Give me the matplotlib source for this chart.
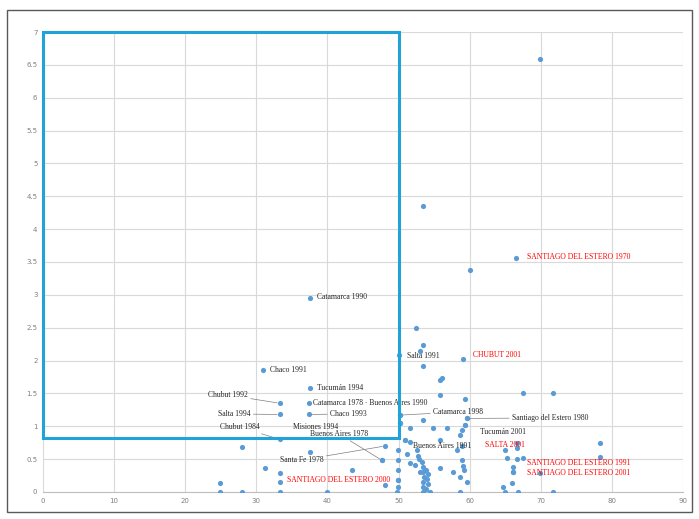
import matplotlib
matplotlib.use("Agg")
import matplotlib.pyplot as plt
from matplotlib.patches import Rectangle

# ---------------- data ----------------
# unlabeled points
pts_x = [69.9, 53.4, 60.0, 52.5, 53.4, 53.0, 53.4, 56.1, 55.8, 55.8, 59.3, 67.5, 71.7,
         50.9, 49.9, 49.9, 49.9, 49.9, 49.9, 51.6, 52.6, 53.3, 53.4, 53.4, 53.6, 53.4, 53.4,
         53.0, 51.6, 52.3, 55.8, 57.7, 58.6, 59.6, 58.9, 58.6, 59.3, 59.6, 58.2, 58.9, 55.8,
         53.4, 54.8, 56.8, 51.6, 50.2, 50.2, 49.8, 53.4, 54.4, 58.6,
         28.0, 31.2, 33.3, 33.3, 24.9, 24.9, 28.0, 33.3, 37.5, 39.9, 43.5, 47.7, 48.1,
         65.0, 66.7, 66.7, 65.3, 66.1, 67.5, 66.1, 66.0, 64.7, 65.0, 66.8, 71.7, 69.9,
         78.3, 78.3,
         53.8, 54.0, 53.9, 52.8, 52.9, 54.2, 54.1, 59.0, 59.2, 51.2]
pts_y = [6.59, 4.35, 3.38, 2.50, 2.24, 2.15, 1.92, 1.74, 1.70, 1.47, 1.41, 1.50, 1.50,
         0.79, 0.64, 0.48, 0.33, 0.18, 0.08, 0.76, 0.64, 0.45, 0.38, 0.30, 0.23, 0.15, 0.08,
         0.30, 0.44, 0.41, 0.36, 0.30, 0.23, 0.15, 0.94, 0.86, 1.02, 1.12, 0.64, 0.48, 0.79,
         1.09, 0.97, 0.98, 0.98, 1.05, 1.17, 0.00, 0.00, 0.00, 0.00,
         0.68, 0.36, 0.29, 0.15, 0.14, 0.00, 0.00, 0.00, 0.61, 0.00, 0.33, 0.48, 0.11,
         0.64, 0.67, 0.74, 0.52, 0.38, 0.52, 0.30, 0.14, 0.08, 0.00, 0.00, 0.00, 0.29,
         0.74, 0.53,
         0.34, 0.20, 0.05, 0.55, 0.50, 0.27, 0.12, 0.40, 0.33, 0.58]

# labeled points
lab_text = ["Catamarca 1990", "Chaco 1991", "Tucumán 1994", "Chubut 1992", "Salta 1994",
            "Chubut 1984", "Catamarca 1978 · Buenos Aires 1990", "Chaco 1993",
            "Misiones 1994", "Buenos Aires 1978", "Santa Fe 1978", "SANTIAGO DEL ESTERO 2000",
            "Salta 1991", "CHUBUT 2001", "SANTIAGO DEL ESTERO 1970", "Catamarca 1998",
            "Santiago del Estero 1980", "Tucumán 2001", "Buenos Aires 1991", "SALTA 2001",
            "SANTIAGO DEL ESTERO 1991", "SANTIAGO DEL ESTERO 2001"]
lab_x = [37.5, 30.9, 37.5, 33.3, 33.3, 33.3, 37.4, 37.4, 50.2, 47.7, 48.1, 49.9,
         50.1, 59.1, 66.5, 50.2, 59.6, 59.3, 50.9, 58.9, 66.7, 66.1]
lab_y = [2.95, 1.85, 1.58, 1.35, 1.18, 0.80, 1.35, 1.18, 1.05, 0.48, 0.70, 0.18,
         2.08, 2.03, 3.56, 1.17, 1.12, 1.02, 0.79, 0.70, 0.50, 0.30]
lab_red = [False, False, False, False, False, False, False, False, False, False, False, True,
           False, True, True, False, False, False, False, True, True, True]

# label text anchor (left edge px, centre y px) -> layout only
lab_pos_px = [(317, 297), (270, 370), (317, 388), (208, 395), (218, 414), (220, 427),
              (313, 403), (330, 414), (293, 427), (310, 434), (280, 460), (287, 480),
              (407, 356), (473, 355), (527, 257), (433, 412), (512, 418), (480, 432),
              (413, 446), (485, 445), (527, 463), (527, 473)]
lab_leader = [False, False, False, True, True, True, True, True, False, True, True, False,
              False, False, False, True, True, False, False, False, False, False]

# highlighted region
box_x0, box_x1, box_y0, box_y1 = 0, 50, 0.82, 7

# ---------------- figure ----------------
W, H = 699, 519
fig = plt.figure(figsize=(W / 100, H / 100), dpi=100)
L, R, T, B = 43, 683, 32, 492
ax = fig.add_axes([L / W, 1 - B / H, (R - L) / W, (B - T) / H])

def px2data(px, py):
    return ((px - L) / (R - L) * 90, (B - py) / (B - T) * 7)

ax.set_xlim(0, 90)
ax.set_ylim(0, 7)
ax.set_xticks(range(0, 91, 10))
ax.set_yticks([i * 0.5 for i in range(15)])
ax.set_yticklabels([("%g" % (i * 0.5)) for i in range(15)])
ax.grid(True, color="#d9d9d9", lw=0.8)
ax.set_axisbelow(True)
for s in ["top", "right", "left"]:
    ax.spines[s].set_visible(False)
ax.spines["bottom"].set_color("#bfbfbf")
ax.tick_params(length=0, labelsize=5, colors="#7f7f7f", pad=4)

mc = "#5b9bd5"
ax.scatter(pts_x, pts_y, s=14, color=mc, zorder=3, linewidths=0)
ax.scatter(lab_x, lab_y, s=14, color=mc, zorder=3, linewidths=0)

for t, x, y, red, pos, lead in zip(lab_text, lab_x, lab_y, lab_red, lab_pos_px, lab_leader):
    tx, ty = px2data(*pos)
    col = "#ff0000" if red else "#262626"
    ap = dict(arrowstyle="-", color="#7f7f7f", lw=0.5, shrinkA=0, shrinkB=2) if lead else None
    ax.annotate(t, xy=(x, y), xytext=(tx, ty), fontsize=5.5, color=col,
                family="Liberation Serif", ha="left", va="center", arrowprops=ap, zorder=4)

ax.add_patch(Rectangle((box_x0, box_y0), box_x1 - box_x0, box_y1 - box_y0, fill=False,
                       edgecolor="#1fa3d8", lw=2.2, zorder=5, clip_on=False))

fig.add_artist(Rectangle((7 / W, 7 / H), (692 - 7) / W, (509 - 7) / H, transform=fig.transFigure,
                         fill=False, edgecolor="#595959", lw=1))

fig.savefig("out.png", dpi=100)
